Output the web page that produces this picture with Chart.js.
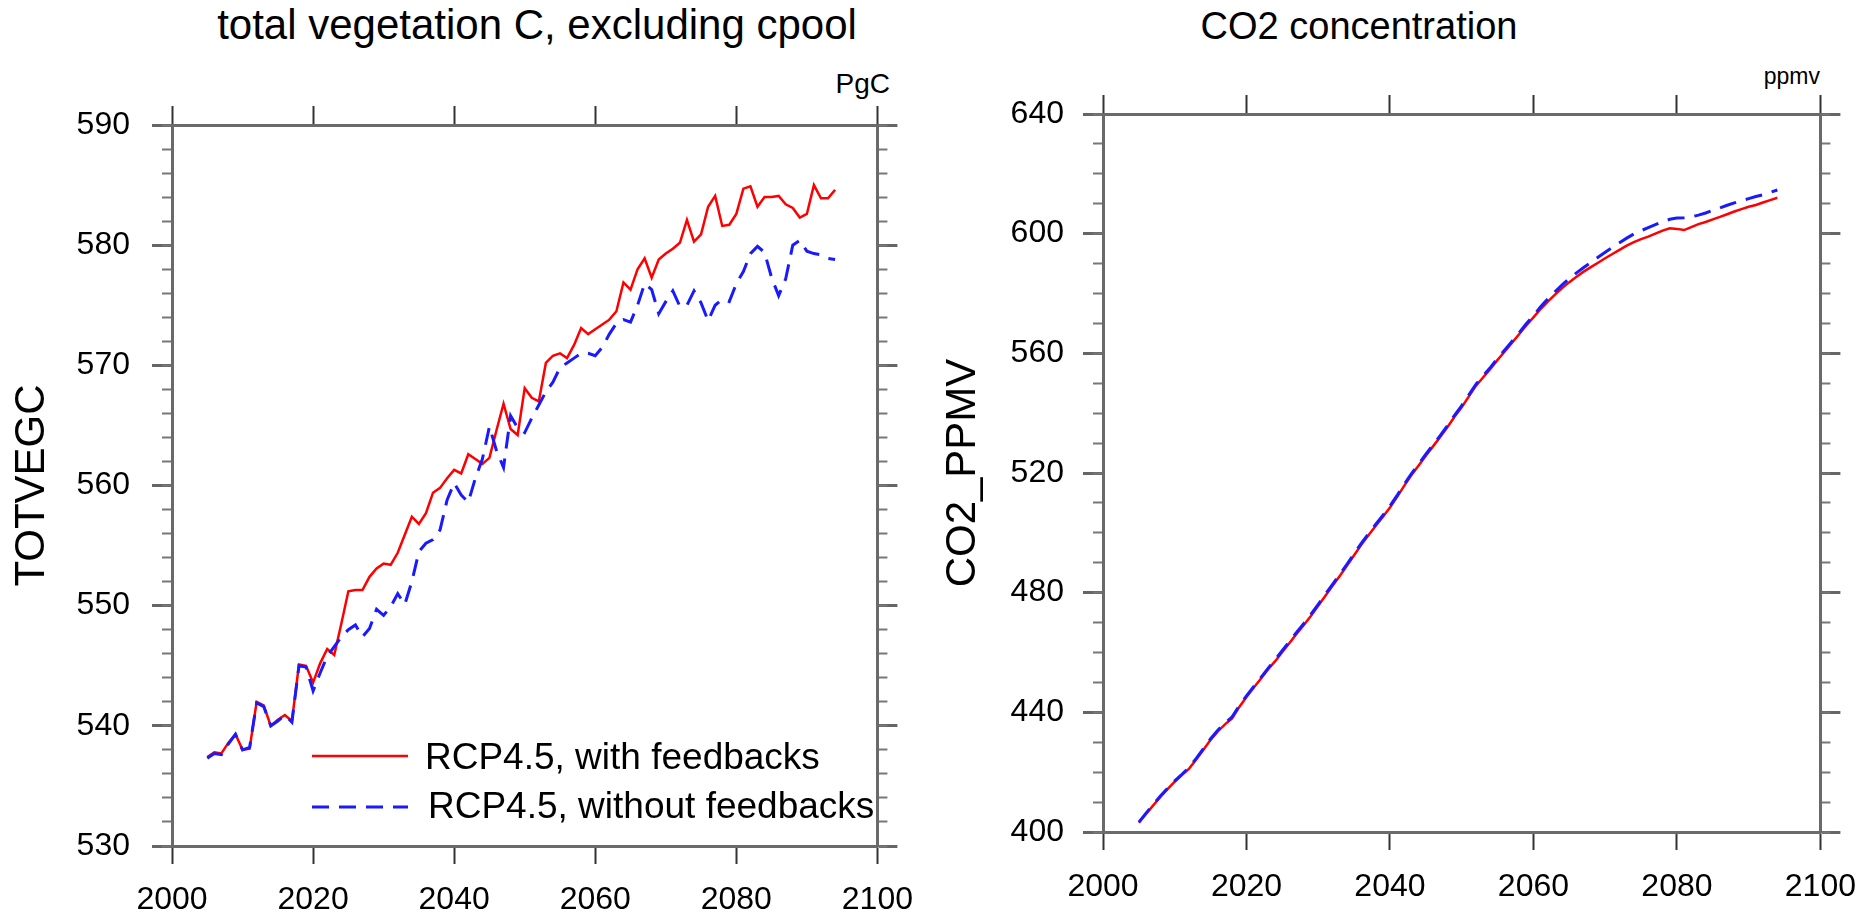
<!DOCTYPE html>
<html>
<head>
<meta charset="utf-8">
<script src="https://cdn.jsdelivr.net/npm/chart.js@4.4.1/dist/chart.umd.min.js"></script>
<style>
  body { margin: 0; background: #fff; width: 1874px; height: 917px; overflow: hidden; position: relative;
         font-family: 'Liberation Sans', Arial, Helvetica, sans-serif; }
  canvas { position: absolute; top: 0; }
  .txt { position: absolute; color: #000; white-space: nowrap; line-height: 1; }
</style>
</head>
<body>
<div class="txt" style="left:537px; top:4px; font-size:42px; transform:translateX(-50%);">total vegetation C, excluding cpool</div>
<div class="txt" style="left:1359px; top:7px; font-size:38px; transform:translateX(-50%);">CO2 concentration</div>
<div class="txt" style="right:984px; top:70px; font-size:28px;">PgC</div>
<div class="txt" style="right:54px; top:65px; font-size:23px;">ppmv</div>
<canvas id="vegc" width="930" height="917" style="left:0px;"></canvas>
<canvas id="co2" width="944" height="917" style="left:930px;"></canvas>
<script>
// ---- data ----
const years = [
  2005, 2006, 2007, 2008, 2009, 2010, 2011, 2012, 2013, 2014,
  2015, 2016, 2017, 2018, 2019, 2020, 2021, 2022, 2023, 2024,
  2025, 2026, 2027, 2028, 2029, 2030, 2031, 2032, 2033, 2034,
  2035, 2036, 2037, 2038, 2039, 2040, 2041, 2042, 2043, 2044,
  2045, 2046, 2047, 2048, 2049, 2050, 2051, 2052, 2053, 2054,
  2055, 2056, 2057, 2058, 2059, 2060, 2061, 2062, 2063, 2064,
  2065, 2066, 2067, 2068, 2069, 2070, 2071, 2072, 2073, 2074,
  2075, 2076, 2077, 2078, 2079, 2080, 2081, 2082, 2083, 2084,
  2085, 2086, 2087, 2088, 2089, 2090, 2091, 2092, 2093, 2094
];

const seriesNames = ['RCP4.5, with feedbacks', 'RCP4.5, without feedbacks'];

// TOTVEGC (PgC)
const vegcWith = [
  537.4, 537.8, 537.7, 538.6, 539.3, 538.0, 538.1, 542.0, 541.7, 540.0,
  540.5, 540.9, 540.4, 545.1, 545.0, 543.6, 545.2, 546.4, 545.9, 548.5,
  551.2, 551.3, 551.3, 552.4, 553.1, 553.5, 553.4, 554.4, 555.9, 557.4,
  556.8, 557.7, 559.4, 559.8, 560.6, 561.3, 561.0, 562.6, 562.2, 561.8,
  562.3, 564.6, 566.8, 564.7, 564.2, 568.1, 567.3, 567.0, 570.2, 570.8,
  571.0, 570.6, 571.7, 573.1, 572.6, 573.0, 573.4, 573.8, 574.5, 576.9,
  576.3, 578.0, 578.9, 577.3, 578.8, 579.3, 579.7, 580.2, 582.1, 580.3,
  580.9, 583.2, 584.1, 581.6, 581.7, 582.6, 584.7, 584.9, 583.2, 584.0,
  584.0, 584.1, 583.4, 583.1, 582.3, 582.6, 585.0, 583.9, 583.9, 584.6
];
const vegcWithout = [
  537.3, 537.7, 537.6, 538.5, 539.3, 538.0, 538.2, 541.9, 541.6, 540.0,
  540.4, 540.9, 540.3, 545.0, 544.9, 542.9, 544.4, 545.8, 546.6, 547.4,
  548.0, 548.4, 547.4, 548.1, 549.7, 549.2, 549.9, 551.0, 550.1, 552.0,
  554.5, 555.2, 555.5, 556.3, 558.8, 560.2, 559.2, 558.6, 560.6, 562.2,
  564.9, 562.9, 561.5, 565.8, 564.8, 564.4, 565.6, 566.7, 567.8, 568.6,
  569.8, 570.2, 570.6, 571.0, 571.0, 570.8, 571.5, 572.6, 573.5, 573.8,
  573.6, 575.0, 576.8, 576.3, 574.3, 575.3, 576.2, 574.9, 575.0, 576.2,
  575.2, 573.7, 575.0, 575.5, 575.3, 576.8, 577.8, 579.3, 579.9, 579.4,
  577.3, 575.8, 577.2, 580.0, 580.4, 579.5, 579.3, 579.2, 578.9, 578.8
];

// CO2_PPMV (ppmv)
const co2With = [
  403.1, 406.0, 408.9, 411.7, 414.3, 416.8, 419.0, 421.2, 424.2, 427.5,
  430.8, 433.6, 436.0, 438.0, 441.8, 445.1, 448.2, 451.2, 454.3, 457.1,
  460.2, 463.2, 466.3, 469.2, 472.3, 475.6, 479.0, 482.3, 485.6, 489.0,
  492.5, 496.0, 499.2, 502.3, 505.3, 508.5, 512.0, 515.8, 519.3, 522.5,
  525.8, 528.9, 532.0, 535.3, 538.8, 542.0, 545.6, 549.2, 552.0, 554.8,
  557.8, 560.6, 563.5, 566.4, 569.3, 572.0, 574.8, 577.3, 579.6, 581.8,
  583.8, 585.6, 587.3, 588.8, 590.3, 591.8, 593.2, 594.6, 596.0, 597.2,
  598.2, 599.0, 600.0, 601.0, 601.8, 601.6, 601.2, 602.2, 603.2, 603.9,
  604.8, 605.6, 606.5, 607.4, 608.2, 609.0, 609.6, 610.4, 611.2, 612.0
];
const co2Without = [
  403.3, 406.3, 409.2, 412.0, 414.6, 417.1, 419.3, 421.6, 424.6, 427.9,
  431.2, 434.0, 436.4, 438.5, 442.2, 445.5, 448.6, 451.6, 454.7, 457.6,
  460.7, 463.7, 466.8, 469.7, 472.8, 476.1, 479.5, 482.8, 486.1, 489.5,
  493.0, 496.5, 499.7, 502.8, 505.8, 509.0, 512.5, 516.3, 519.8, 523.0,
  526.3, 529.4, 532.5, 535.8, 539.3, 542.5, 546.1, 549.7, 552.5, 555.3,
  558.3, 561.1, 564.0, 566.9, 569.9, 572.6, 575.6, 578.2, 580.6, 582.9,
  585.0, 586.9, 588.7, 590.3, 592.1, 593.8, 595.4, 597.0, 598.5, 599.9,
  601.0, 602.0, 603.0, 604.0, 604.8, 605.2, 605.3, 605.6, 606.2, 606.9,
  607.8, 608.6, 609.5, 610.3, 611.0, 611.7, 612.4, 613.0, 613.8, 614.6
];

const xRange = [2000, 2100, 20];
const vegcRange = [530, 590, 10, 2];
const co2Range = [400, 640, 40, 10];

// ---- drawing ----
Chart.defaults.font.family = "'Liberation Sans', Arial, Helvetica, sans-serif";
Chart.defaults.color = '#000';

const AXIS = '#6a6a6a';
const RED = '#ff0000';
const BLUE = '#1a1aff';

const pts = ys => years.map((x, i) => ({ x: x, y: ys[i] }));

// legend drawn inside the plot area (NCL style)
const innerLegend = {
  id: 'innerLegend',
  afterDatasetsDraw(chart, args, opts) {
    if (!opts.show) return;
    const { ctx, chartArea } = chart;
    chart.data.datasets.forEach((ds, row) => {
      const y = chartArea.top + opts.rowY[row];
      ctx.save();
      ctx.strokeStyle = ds.borderColor;
      ctx.lineWidth = ds.borderWidth;
      ctx.setLineDash(ds.borderDash || []);
      ctx.beginPath();
      ctx.moveTo(chartArea.left + opts.lineX[0], y);
      ctx.lineTo(chartArea.left + opts.lineX[1], y);
      ctx.stroke();
      ctx.setLineDash([]);
      ctx.fillStyle = '#000';
      ctx.font = opts.fontSize + "px 'Liberation Sans', Arial, sans-serif";
      ctx.textBaseline = 'middle';
      ctx.textAlign = 'left';
      ctx.fillText(ds.label, chartArea.left + opts.textX[row], y + opts.textDy[row]);
      ctx.restore();
    });
  }
};

function makeScales(range, yTitle, box) {
  const tickFont = { size: 32 };
  return {
    x: {
      type: 'linear', position: 'bottom', min: xRange[0], max: xRange[1],
      ticks: { stepSize: xRange[2], font: tickFont, color: '#000', padding: box.xPad,
               maxRotation: 0, autoSkip: false, callback: v => String(v) },
      grid: { drawOnChartArea: false, tickLength: 18, tickWidth: 2, tickColor: '#333' },
      border: { color: AXIS, width: 3 },
      afterFit: s => { s.height = box.bottom; }
    },
    xTop: {
      type: 'linear', position: 'top', min: xRange[0], max: xRange[1],
      ticks: { display: false, stepSize: xRange[2], autoSkip: false },
      grid: { drawOnChartArea: false, tickLength: 19, tickWidth: 2, tickColor: '#333' },
      border: { color: AXIS, width: 3 },
      afterFit: s => { s.height = box.top; }
    },
    y: {
      type: 'linear', position: 'left', weight: 1, min: range[0], max: range[1],
      ticks: { stepSize: range[2], font: tickFont, color: '#000', padding: box.yPad, autoSkip: false },
      grid: { drawOnChartArea: false, tickLength: 20, tickWidth: 3, tickColor: '#666' },
      border: { color: AXIS, width: 3 },
      title: { display: true, text: yTitle, color: '#000', font: { size: 42 },
               padding: { top: box.titlePad, bottom: 0 } },
      afterFit: s => { s.width = box.left; }
    },
    yMinor: {
      type: 'linear', position: 'left', weight: 0, min: range[0], max: range[1],
      ticks: { display: false, stepSize: range[3], autoSkip: false },
      grid: { drawOnChartArea: false, tickLength: 10, tickWidth: 2, tickColor: '#777' },
      border: { display: false },
      afterFit: s => { s.width = 0; }
    },
    yR: {
      type: 'linear', position: 'right', weight: 1, min: range[0], max: range[1],
      ticks: { display: false, stepSize: range[2], autoSkip: false },
      grid: { drawOnChartArea: false, tickLength: 20, tickWidth: 3, tickColor: '#666' },
      border: { color: AXIS, width: 3 },
      afterFit: s => { s.width = box.right; }
    },
    yRMinor: {
      type: 'linear', position: 'right', weight: 0, min: range[0], max: range[1],
      ticks: { display: false, stepSize: range[3], autoSkip: false },
      grid: { drawOnChartArea: false, tickLength: 10, tickWidth: 2, tickColor: '#777' },
      border: { display: false },
      afterFit: s => { s.width = 0; }
    }
  };
}

function makePlot(id, withVals, withoutVals, range, yTitle, box, legendOpts) {
  const ctx = document.getElementById(id).getContext('2d');
  return new Chart(ctx, {
    type: 'line',
    data: {
      datasets: [
        {
          label: seriesNames[0],
          data: pts(withVals),
          borderColor: RED,
          borderWidth: 2.5,
          pointRadius: 0,
          tension: 0,
          order: 1
        },
        {
          label: seriesNames[1],
          data: pts(withoutVals),
          borderColor: BLUE,
          borderWidth: 3,
          borderDash: [17, 10],
          pointRadius: 0,
          tension: 0,
          order: 0
        }
      ]
    },
    options: {
      responsive: false,
      animation: false,
      layout: { padding: 0 },
      plugins: {
        legend: { display: false },
        tooltip: { enabled: false },
        innerLegend: legendOpts
      },
      scales: makeScales(range, yTitle, box)
    },
    plugins: [innerLegend]
  });
}

makePlot('vegc', vegcWith, vegcWithout, vegcRange, 'TOTVEGC',
  { left: 172, right: 40, top: 125, bottom: 71, xPad: 17, yPad: 22, titlePad: 7 },
  { show: true, rowY: [631, 682], lineX: [140, 236], textX: [253, 256], textDy: [3, 1], fontSize: 37 });

makePlot('co2', co2With, co2Without, co2Range, 'CO2_PPMV',
  { left: 173, right: 53, top: 114, bottom: 85, xPad: 18, yPad: 19, titlePad: 8 },
  { show: false });
</script>
</body>
</html>
